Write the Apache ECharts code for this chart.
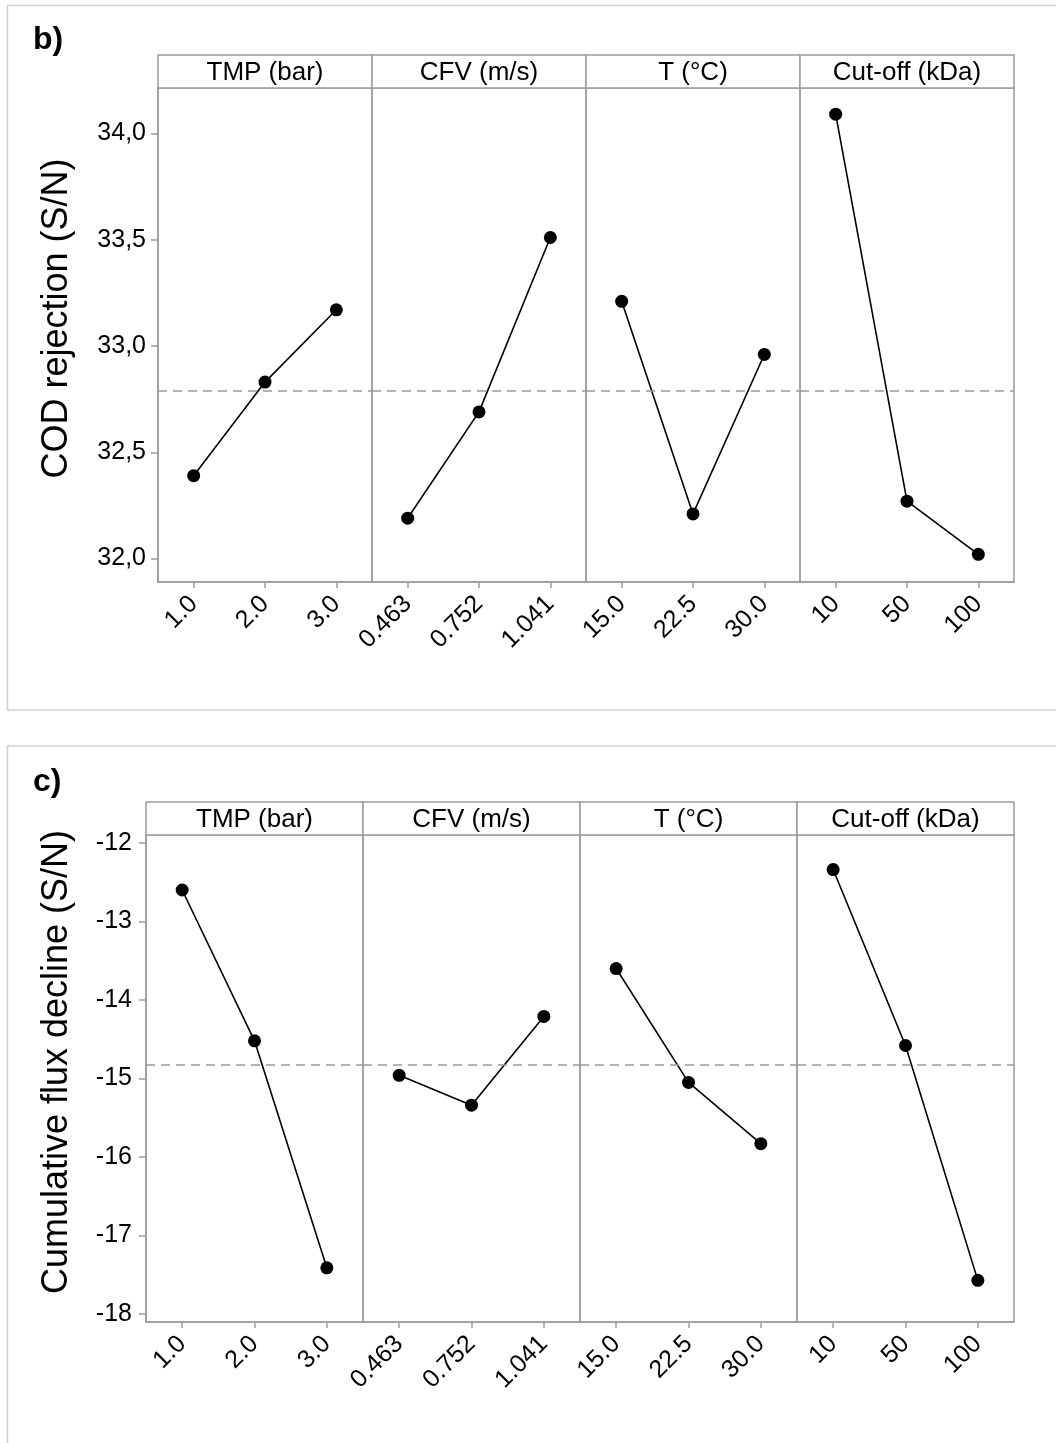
<!DOCTYPE html>
<html>
<head>
<meta charset="utf-8">
<script src="https://cdn.jsdelivr.net/npm/echarts@6/dist/echarts.min.js"></script>
<style>
  html, body { margin: 0; padding: 0; background: #ffffff; }
  #main { width: 1056px; height: 1443px; }
</style>
</head>
<body>
<div id="main"></div>
<script>
// Factor names shown in the strip above each sub-panel
const factorNames = ['TMP (bar)', 'CFV (m/s)', 'T (°C)', 'Cut-off (kDa)'];

// Factor levels (category tick labels)
const levelsTMP = ['1.0', '2.0', '3.0'];
const levelsCFV = ['0.463', '0.752', '1.041'];
const levelsT = ['15.0', '22.5', '30.0'];
const levelsCutoff = ['10', '50', '100'];

// b) COD rejection, S/N ratio per factor level
const codTMP = [32.39, 32.83, 33.17];
const codCFV = [32.19, 32.69, 33.51];
const codT = [33.21, 32.21, 32.96];
const codCutoff = [34.09, 32.27, 32.02];

// c) Cumulative flux decline, S/N ratio per factor level
const fluxTMP = [-12.60, -14.52, -17.41];
const fluxCFV = [-14.96, -15.34, -14.21];
const fluxT = [-13.60, -15.05, -15.83];
const fluxCutoff = [-12.34, -14.58, -17.57];

// Y-axis tick values
const codTicks = [32.0, 32.5, 33.0, 33.5, 34.0];
const fluxTicks = [-18, -17, -16, -15, -14, -13, -12];

const FONT = '"Liberation Sans", Arial, Helvetica, sans-serif';
const FRAME = '#9c9c9c';

const levels = [levelsTMP, levelsCFV, levelsT, levelsCutoff];

const panels = [
  {
    letter: 'b)', letterY: 40,
    title: 'COD rejection (S/N)',
    series: [codTMP, codCFV, codT, codCutoff],
    ticks: codTicks,
    fmt: v => v.toFixed(1).replace('.', ','),
    yMin: 31.89, yMax: 34.213,
    left: 158, width: 214, top: 88, height: 494, strip: 33,
    box: { y: 5.5, h: 704.5 },
    labelMargin: 12
  },
  {
    letter: 'c)', letterY: 782,
    title: 'Cumulative flux decline (S/N)',
    series: [fluxTMP, fluxCFV, fluxT, fluxCutoff],
    ticks: fluxTicks,
    fmt: v => String(v),
    yMin: -18.10, yMax: -11.90,
    left: 146, width: 217, top: 835, height: 487, strip: 33,
    box: { y: 746, h: 720 },
    labelMargin: 14
  }
];

const mean = arr => arr.reduce((a, b) => a + b, 0) / arr.length;

const grid = [], xAxis = [], yAxis = [], series = [], graphic = [];

panels.forEach(p => {
  // light outer border around the panel
  graphic.push({
    type: 'rect', z: -10,
    shape: { x: 7.5, y: p.box.y, width: 1060, height: p.box.h },
    style: { fill: 'none', stroke: '#cfcfcf', lineWidth: 1.5 }
  });
  graphic.push({
    type: 'text', x: 33, y: p.letterY,
    style: { text: p.letter, font: 'bold 32px ' + FONT, fill: '#000', textVerticalAlign: 'middle' }
  });
  // vertical axis title, centred on the frame including the strip
  graphic.push({
    type: 'text', x: 57, y: (p.top - p.strip + p.top + p.height) / 2,
    rotation: Math.PI / 2,
    style: { text: p.title, font: '36px ' + FONT, fill: '#000', textAlign: 'center', textVerticalAlign: 'middle' }
  });

  const grand = mean(p.series.flat());

  p.series.forEach((vals, i) => {
    const idx = grid.length;
    const gl = p.left + i * p.width;
    grid.push({
      left: gl, top: p.top, width: p.width, height: p.height,
      show: true, borderColor: FRAME, borderWidth: 1.5, backgroundColor: 'transparent',
      containLabel: false, outerBoundsMode: 'none'
    });
    // strip header
    graphic.push({
      type: 'rect',
      shape: { x: gl, y: p.top - p.strip, width: p.width, height: p.strip },
      style: { fill: '#fff', stroke: FRAME, lineWidth: 1.5 }
    });
    graphic.push({
      type: 'text', x: gl + p.width / 2, y: p.top - p.strip / 2 + 1,
      style: { text: factorNames[i], font: '26px ' + FONT, fill: '#000', textAlign: 'center', textVerticalAlign: 'middle' }
    });

    xAxis.push({
      type: 'category', gridIndex: idx, data: levels[i], boundaryGap: true,
      axisLine: { show: true, lineStyle: { color: FRAME, width: 1.5 } },
      axisTick: { show: true, alignWithLabel: true, length: 6, lineStyle: { color: FRAME, width: 1.5 } },
      axisLabel: { interval: 0, rotate: 45, margin: 18, fontSize: 25, fontFamily: FONT, color: '#000' },
      splitLine: { show: false }
    });
    yAxis.push({
      type: 'value', gridIndex: idx, min: p.yMin, max: p.yMax,
      axisLine: { show: idx % 4 === 0, lineStyle: { color: FRAME, width: 1.5 } },
      axisTick: { show: i === 0, length: 7, customValues: p.ticks, lineStyle: { color: FRAME, width: 1.5 } },
      axisLabel: { show: i === 0, customValues: p.ticks, formatter: p.fmt, margin: p.labelMargin,
                   fontSize: 25, fontFamily: FONT, color: '#000' },
      splitLine: { show: false }
    });
    series.push({
      type: 'line', xAxisIndex: idx, yAxisIndex: idx, data: vals,
      symbol: 'circle', symbolSize: 13,
      lineStyle: { color: '#000', width: 1.6 },
      itemStyle: { color: '#000' },
      emphasis: { disabled: true },
      z: 3,
      markLine: {
        silent: true, symbol: 'none', animation: false,
        label: { show: false },
        lineStyle: { type: [9, 6], color: '#9a9a9a', width: 1.6 },
        data: [{ yAxis: grand }]
      }
    });
  });
});

const chart = echarts.init(document.getElementById('main'), null, { renderer: 'canvas' });
chart.setOption({
  animation: false,
  backgroundColor: '#ffffff',
  grid, xAxis, yAxis, series, graphic
});
</script>
</body>
</html>
